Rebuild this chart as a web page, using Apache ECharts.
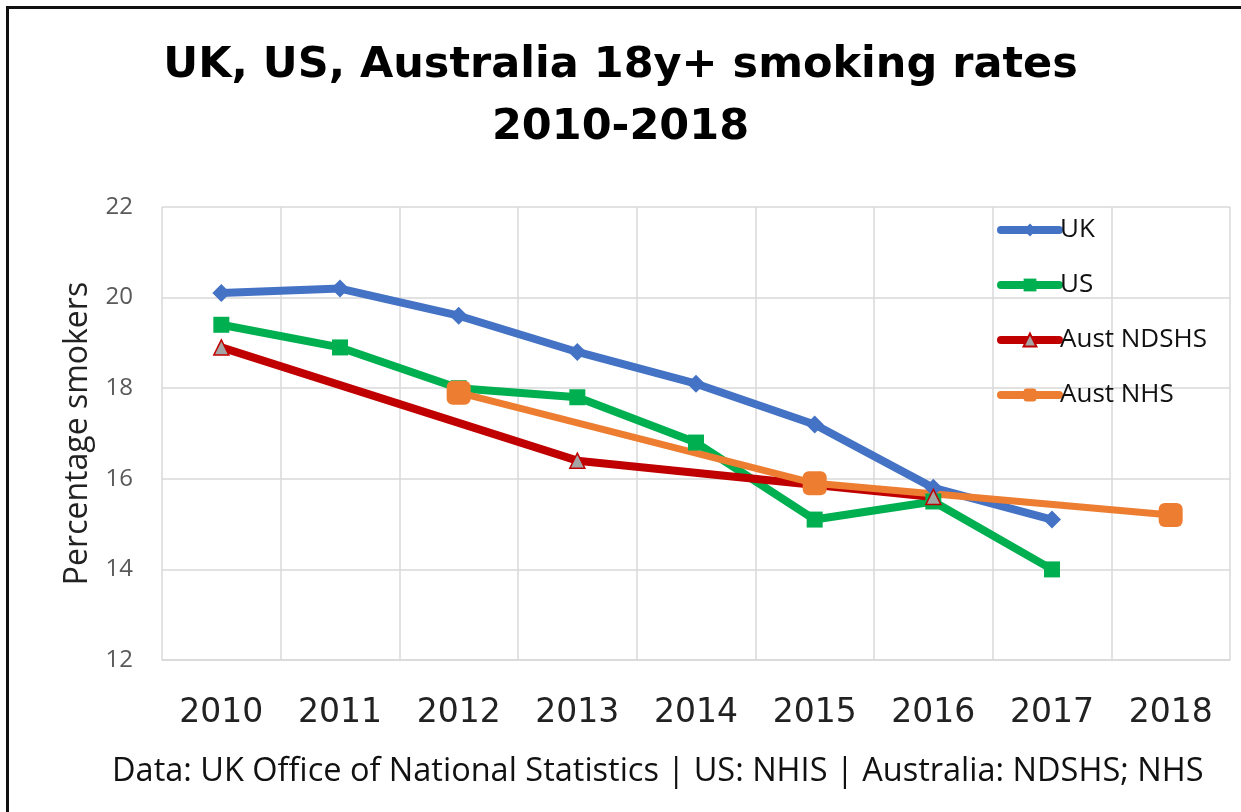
<!DOCTYPE html>
<html>
<head>
<meta charset="utf-8">
<script src="https://cdn.jsdelivr.net/npm/echarts@6/dist/echarts.min.js"></script>
<style>
html,body{margin:0;padding:0;background:#fff;}
#frame{position:absolute;left:6px;top:6px;width:1235px;height:806px;border-left:3px solid #111;border-top:3px solid #111;box-sizing:border-box;}
#chart{position:absolute;left:0;top:0;width:1241px;height:812px;}
</style>
</head>
<body>
<div id="frame"></div>
<div id="chart"></div>
<script>
const years = ['2010','2011','2012','2013','2014','2015','2016','2017','2018'];
const uk         = [20.1, 20.2, 19.6, 18.8, 18.1, 17.2, 15.8, 15.1, null];
const us         = [19.4, 18.9, 18.0, 17.8, 16.8, 15.1, 15.5, 14.0, null];
const austNDSHS  = [18.9, null, null, 16.4, null, null, 15.6, null, null];
const austNHS    = [null, null, 17.9, null, null, 15.9, null, null, 15.2];
const yTicks = {min: 12, max: 22, interval: 2};

const chart = echarts.init(document.getElementById('chart'), null, {renderer: 'canvas'});
const FONT = 'Open Sans';
chart.setOption({
  animation: false,
  backgroundColor: 'transparent',
  title: {
    text: 'UK, US, Australia 18y+ smoking rates\n2010-2018',
    left: 'center',
    top: 30,
    textStyle: {fontFamily: 'DejaVu Sans', fontWeight: 'bold', fontSize: 43, lineHeight: 62, color: '#000'}
  },
  graphic: [{
    type: 'text',
    left: 112,
    top: 755,
    style: {text: 'Data: UK Office of National Statistics | US: NHIS | Australia: NDSHS; NHS', fontFamily: FONT, fontSize: 32.5, fill: '#111'}
  }],
  legend: {
    orient: 'vertical',
    left: 992,
    top: 212,
    itemWidth: 58,
    itemHeight: 16,
    itemGap: 29,
    lineStyle: {width: 8, cap: 'round'},
    textStyle: {fontFamily: FONT, fontSize: 26, color: '#111', padding: [0,0,0,-4]},
    data: ['UK','US','Aust NDSHS','Aust NHS']
  },
  grid: {left: 162, right: 11, top: 207, bottom: 152},
  xAxis: {
    type: 'category',
    data: years,
    boundaryGap: true,
    axisLine: {show: true, lineStyle: {color: '#d9d9d9', width: 1.5}},
    axisTick: {show: false},
    splitLine: {show: true, lineStyle: {color: '#d9d9d9', width: 1.5}},
    axisLabel: {fontFamily: 'DejaVu Sans', fontSize: 33, color: '#222', margin: 37}
  },
  yAxis: {
    type: 'value',
    min: yTicks.min, max: yTicks.max, interval: yTicks.interval,
    name: 'Percentage smokers',
    nameLocation: 'middle',
    nameGap: 68,
    nameRotate: 90,
    nameTextStyle: {fontFamily: FONT, fontSize: 32, color: '#222'},
    axisLine: {show: false},
    axisTick: {show: false},
    splitLine: {show: true, lineStyle: {color: '#d9d9d9', width: 1.5}},
    axisLabel: {fontFamily: FONT, fontSize: 24, color: '#595959', margin: 29}
  },
  series: [
    {name: 'UK', type: 'line', data: uk, symbol: 'diamond', symbolSize: 18,
     lineStyle: {color: '#4472C4', width: 8, cap: 'round'}, itemStyle: {color: '#4472C4'}},
    {name: 'US', type: 'line', data: us, symbol: 'rect', symbolSize: 16,
     lineStyle: {color: '#00B050', width: 8, cap: 'round'}, itemStyle: {color: '#00B050'}},
    {name: 'Aust NDSHS', type: 'line', data: austNDSHS, connectNulls: true, symbol: 'triangle', symbolSize: 15,
     lineStyle: {color: '#C00000', width: 8, cap: 'round'}, itemStyle: {color: '#A5A5A5', borderColor: '#C00000', borderWidth: 1.5}},
    {name: 'Aust NHS', type: 'line', data: austNHS, connectNulls: true, symbol: 'roundRect', symbolSize: 24,
     lineStyle: {color: '#ED7D31', width: 7, cap: 'round'}, itemStyle: {color: '#ED7D31'}}
  ]
});
</script>
</body>
</html>
